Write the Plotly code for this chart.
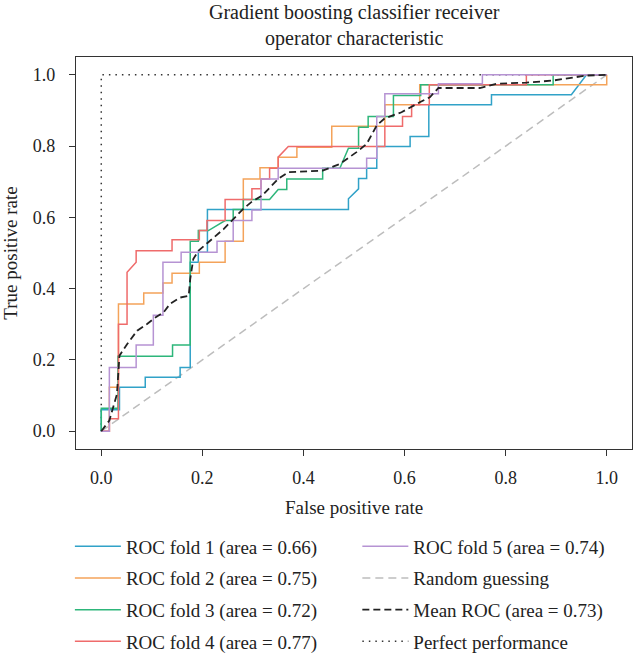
import plotly.graph_objects as go

# ---- data ----
fold1_fpr = [0, 0, 0.036, 0.036, 0.087, 0.087, 0.156, 0.156, 0.176, 0.176, 0.192, 0.192, 0.210, 0.210,
             0.489, 0.489, 0.509, 0.509, 0.525, 0.525, 0.545, 0.545, 0.611, 0.611, 0.648, 0.648,
             0.772, 0.772, 0.930, 0.960, 1.0]
fold1_tpr = [0, 0.06, 0.06, 0.123, 0.123, 0.151, 0.151, 0.179, 0.179, 0.474, 0.474, 0.502, 0.502, 0.622,
             0.622, 0.652, 0.680, 0.709, 0.709, 0.738, 0.738, 0.799, 0.799, 0.827, 0.827, 0.916,
             0.916, 0.944, 0.944, 1.0, 1.0]

fold2_fpr = [0, 0.016, 0.016, 0.034, 0.034, 0.084, 0.084, 0.122, 0.122, 0.140, 0.140, 0.194, 0.194,
             0.245, 0.245, 0.281, 0.281, 0.314, 0.314, 0.350, 0.350, 0.387, 0.387, 0.456, 0.456,
             0.561, 0.561, 0.630, 0.630, 1.0, 1.0]
fold2_tpr = [0, 0, 0.123, 0.123, 0.357, 0.357, 0.388, 0.388, 0.416, 0.416, 0.443, 0.443, 0.474,
             0.474, 0.533, 0.533, 0.708, 0.708, 0.739, 0.739, 0.769, 0.769, 0.797, 0.797, 0.856,
             0.856, 0.916, 0.916, 0.972, 0.972, 1.0]

fold3_fpr = [0, 0, 0.033, 0.033, 0.141, 0.141, 0.176, 0.176, 0.192, 0.192, 0.212, 0.245, 0.261, 0.261,
             0.281, 0.281, 0.333, 0.350, 0.367, 0.367, 0.438, 0.438, 0.472, 0.489, 0.509, 0.509,
             0.528, 0.528, 0.578, 0.578, 0.632, 0.632, 0.894, 0.894, 1.0]
fold3_tpr = [0, 0.064, 0.064, 0.21, 0.21, 0.242, 0.242, 0.533, 0.533, 0.563, 0.563, 0.591, 0.591, 0.622,
             0.622, 0.650, 0.650, 0.678, 0.678, 0.708, 0.708, 0.738, 0.738, 0.794, 0.794, 0.853,
             0.853, 0.883, 0.883, 0.942, 0.942, 0.972, 0.972, 1.0, 1.0]

fold4_fpr = [0, 0.016, 0.016, 0.034, 0.034, 0.051, 0.051, 0.069, 0.069, 0.140, 0.140, 0.194, 0.194,
             0.209, 0.209, 0.245, 0.245, 0.298, 0.298, 0.316, 0.316, 0.333, 0.333, 0.350, 0.350,
             0.370, 0.561, 0.561, 0.596, 0.596, 0.614, 0.614, 0.649, 0.649, 0.841, 0.841, 1.0]
fold4_tpr = [0, 0, 0.035, 0.035, 0.30, 0.30, 0.446, 0.474, 0.506, 0.506, 0.537, 0.537, 0.563,
             0.563, 0.591, 0.591, 0.650, 0.650, 0.680, 0.680, 0.708, 0.708, 0.738, 0.738, 0.769,
             0.799, 0.799, 0.856, 0.856, 0.883, 0.883, 0.916, 0.916, 0.972, 0.972, 1.0, 1.0]

fold5_fpr = [0, 0.016, 0.016, 0.069, 0.069, 0.103, 0.103, 0.122, 0.122, 0.158, 0.158, 0.229, 0.229,
             0.261, 0.261, 0.298, 0.298, 0.316, 0.316, 0.350, 0.350, 0.525, 0.525, 0.545, 0.545,
             0.561, 0.561, 0.667, 0.667, 0.754, 0.754, 1.0]
fold5_tpr = [0, 0, 0.179, 0.179, 0.242, 0.242, 0.325, 0.325, 0.474, 0.474, 0.502, 0.502, 0.533,
             0.533, 0.591, 0.591, 0.621, 0.621, 0.708, 0.708, 0.738, 0.738, 0.766, 0.766, 0.883,
             0.883, 0.947, 0.947, 0.975, 0.975, 1.0, 1.0]

mean_fpr = [0, 0.016, 0.031, 0.036, 0.051, 0.071, 0.090, 0.107, 0.123, 0.136, 0.156, 0.173, 0.176,
            0.182, 0.192, 0.212, 0.242, 0.281, 0.298, 0.318, 0.350, 0.370, 0.438, 0.472, 0.505,
            0.525, 0.545, 0.561, 0.594, 0.630, 0.650, 0.667, 0.749, 0.782, 0.841, 0.894, 0.960, 1.0]
mean_tpr = [0, 0.03, 0.104, 0.212, 0.244, 0.282, 0.30, 0.319, 0.333, 0.357, 0.375, 0.38, 0.427,
            0.483, 0.506, 0.53, 0.567, 0.624, 0.644, 0.661, 0.708, 0.727, 0.731, 0.75, 0.783,
            0.806, 0.858, 0.878, 0.895, 0.923, 0.937, 0.963, 0.963, 0.975, 0.978, 0.984, 0.998, 1.0]

random_x = [0, 1]
random_y = [0, 1]
perfect_x = [0, 0, 1]
perfect_y = [0, 1, 1]

fold_names = ["ROC fold 1 (area = 0.66)", "ROC fold 2 (area = 0.75)", "ROC fold 3 (area = 0.72)",
              "ROC fold 4 (area = 0.77)", "ROC fold 5 (area = 0.74)"]
fold_colors = ["#31a2c8", "#f4a35a", "#2db67a", "#ef6b6b", "#b693d3"]
tick_vals = [0.0, 0.2, 0.4, 0.6, 0.8, 1.0]
tick_text = ["0.0", "0.2", "0.4", "0.6", "0.8", "1.0"]
title_text = "Gradient boosting classifier receiver<br>operator characteristic"

FONT = "Liberation Serif"
TXT = "#222222"

fig = go.Figure()

fig.add_trace(go.Scatter(x=random_x, y=random_y, mode="lines", name="Random guessing",
                         line=dict(color="#bdbdbd", width=1.5, dash="8px,5px"),
                         legend="legend2", legendgroup="r", legendrank=2))
fig.add_trace(go.Scatter(x=perfect_x, y=perfect_y, mode="lines", name="Perfect performance",
                         line=dict(color="#333333", width=1.5, dash="1.5px,5px"),
                         legend="legend2", legendgroup="p", legendrank=4))

folds = [(fold1_fpr, fold1_tpr), (fold2_fpr, fold2_tpr), (fold3_fpr, fold3_tpr),
         (fold4_fpr, fold4_tpr), (fold5_fpr, fold5_tpr)]
for i, ((fx, fy), nm, col) in enumerate(zip(folds, fold_names, fold_colors)):
    fig.add_trace(go.Scatter(x=fx, y=fy, mode="lines", name=nm,
                             line=dict(color=col, width=1.5),
                             legend="legend" if i < 4 else "legend2",
                             legendgroup=f"f{i}", legendrank=(i + 1) if i < 4 else 1))

fig.add_trace(go.Scatter(x=mean_fpr, y=mean_tpr, mode="lines", name="Mean ROC (area = 0.73)",
                         line=dict(color="#222222", width=1.8, dash="7px,4px"),
                         legend="legend2", legendgroup="m", legendrank=3))

axis_common = dict(range=[-0.05, 1.05], tickvals=tick_vals, ticktext=tick_text,
                   showgrid=False, zeroline=False, showline=True, mirror=True,
                   linecolor="#333333", linewidth=1.3, ticks="outside", ticklen=6,
                   tickwidth=1.3, tickcolor="#333333", automargin=False,
                   tickfont=dict(family=FONT, size=18, color=TXT))

legend_common = dict(yanchor="top", orientation="v", traceorder="grouped",
                     tracegroupgap=4, bgcolor="rgba(0,0,0,0)", itemwidth=46,
                     font=dict(family=FONT, size=19, color=TXT))

fig.update_layout(
    width=634, height=653,
    margin=dict(l=76, r=2, t=57, b=204, autoexpand=False),
    plot_bgcolor="white", paper_bgcolor="white",
    font=dict(family=FONT, size=19, color=TXT),
    xaxis=dict(**axis_common, ticklabelstandoff=6,
               title=dict(text="False positive rate", standoff=13,
                          font=dict(family=FONT, size=19, color=TXT))),
    yaxis=dict(**axis_common, ticklabelstandoff=10,
               title=dict(text="True positive rate", standoff=10,
                          font=dict(family=FONT, size=19, color=TXT))),
    legend=dict(x=-0.011, xanchor="left", y=-0.200, **legend_common),
    legend2=dict(x=0.506, xanchor="left", y=-0.200, **legend_common),
    showlegend=True,
    annotations=[dict(text=title_text, xref="paper", yref="paper",
                      x=0.5, y=1.147, xanchor="center", yanchor="top", showarrow=False,
                      font=dict(family=FONT, size=20, color=TXT))],
)

fig.write_html("out.html", config={"displayModeBar": False},
               post_script="document.body.style.margin='0';document.body.style.padding='0';")
